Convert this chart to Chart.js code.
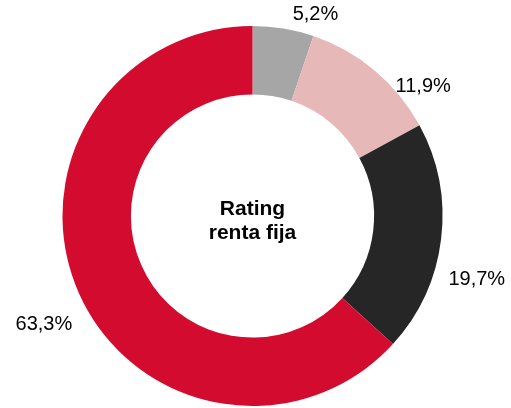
<!DOCTYPE html>
<html>
<head>
<meta charset="utf-8">
<script src="https://cdn.jsdelivr.net/npm/chart.js@4.4.1/dist/chart.umd.min.js"></script>
<style>
  html, body { margin: 0; padding: 0; background: #fff; }
  #wrap { width: 511px; height: 408px; position: relative; }
</style>
</head>
<body>
<div id="wrap"><canvas id="ratingChart"></canvas></div>
<script>
// datos del gráfico
const categorias = ['A', 'B', 'C', 'D'];
const valores = [5.2, 11.9, 19.7, 63.3];
const etiquetas = ['5,2%', '11,9%', '19,7%', '63,3%'];
const colores = ['#A6A6A6', '#E6B9B8', '#262626', '#D20B2F'];
const titulo = ['Rating', 'renta fija'];

// etiquetas fuera del anillo, ancladas al ángulo medio de cada sector
const labelsPlugin = {
    id: 'outerLabels',
    afterDatasetsDraw(chart, args, opts) {
        const ctx = chart.ctx;
        const meta = chart.getDatasetMeta(0);
        ctx.save();
        ctx.font = '20px "Liberation Sans", Arial, sans-serif';
        ctx.fillStyle = '#000';
        ctx.textAlign = 'center';
        ctx.textBaseline = 'middle';
        meta.data.forEach((arc, i) => {
            const p = arc.getProps(['x', 'y', 'startAngle', 'endAngle', 'outerRadius'], true);
            const nudge = opts.nudges[i];
            const a = (p.startAngle + p.endAngle) / 2 + nudge.deg * Math.PI / 180;
            const r = p.outerRadius + nudge.pad;
            ctx.fillText(etiquetas[i], p.x + r * Math.cos(a), p.y + r * Math.sin(a));
        });

        // texto central
        const c = meta.data[0];
        ctx.font = 'bold 21px "Liberation Sans", Arial, sans-serif';
        ctx.textBaseline = 'alphabetic';
        ctx.fillText(titulo[0], c.x, c.y - 1);
        ctx.fillText(titulo[1], c.x, c.y + 23);
        ctx.restore();
    }
};

const ctx = document.getElementById('ratingChart').getContext('2d');
new Chart(ctx, {
    type: 'doughnut',
    data: {
        labels: categorias,
        datasets: [{
            data: valores,
            backgroundColor: colores,
            borderWidth: 0
        }]
    },
    options: {
        responsive: true,
        maintainAspectRatio: false,
        animation: false,
        cutout: '64%',
        layout: {
            padding: { top: 26, bottom: 2, left: 61, right: 67 }
        },
        plugins: {
            legend: { display: false },
            tooltip: { enabled: false },
            outerLabels: {
                nudges: [
                    { deg: 8, pad: 21 },
                    { deg: 12.8, pad: 24 },
                    { deg: 8.8, pad: 43 },
                    { deg: -3.6, pad: 45 }
                ]
            }
        }
    },
    plugins: [labelsPlugin]
});
</script>
</body>
</html>
